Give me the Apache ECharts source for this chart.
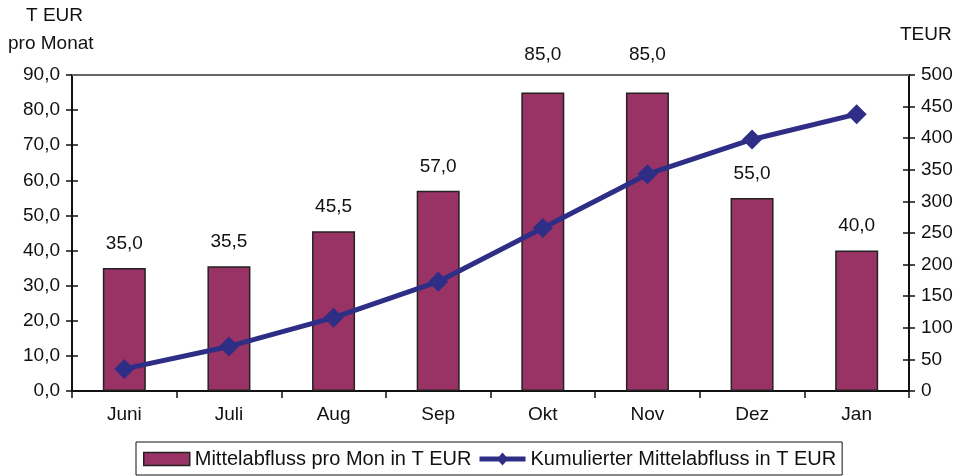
<!DOCTYPE html>
<html><head><meta charset="utf-8">
<script src="https://cdn.jsdelivr.net/npm/echarts@6/dist/echarts.min.js"></script>
<style>html,body{margin:0;padding:0;background:#fff}#c{width:964px;height:476px}</style>
</head><body><div id="c"></div>
<script>
const categories = ['Juni','Juli','Aug','Sep','Okt','Nov','Dez','Jan'];
const monthly = [35.0, 35.5, 45.5, 57.0, 85.0, 85.0, 55.0, 40.0];
const cumulative = [35, 70.5, 116, 173, 258, 343, 398, 438];
const rightTitle = 'TEUR';
const barName = 'Mittelabfluss pro Mon in T EUR';
const lineName = 'Kumulierter Mittelabfluss in T EUR';

const font = 'Liberation Sans, Arial, sans-serif';
const fs = 19;
const comma = v => v.toFixed(1).replace('.', ',');
// labels above the two tallest bars sit higher in the reference
const labelDistance = v => v >= 80 ? 28 : 15;
const lineIcon = 'path://M0,4 L19.5,4 L23,0 L26.5,4 L46,4 L46,9 L26.5,9 L23,13 L19.5,9 L0,9 Z';

const chart = echarts.init(document.getElementById('c'));
const baseAxis = {
  type: 'value', splitLine: {show: false},
  axisLine: {show: true, lineStyle: {color: '#111', width: 2}},
  axisTick: {show: true, length: 6, lineStyle: {color: '#111', width: 1.5}},
  axisLabel: {fontSize: fs, color: '#111', margin: 12, fontFamily: font}
};
chart.setOption({
  animation: false,
  textStyle: {fontFamily: font},
  grid: {left: 72, right: 55, top: 75, bottom: 85, containLabel: false},
  graphic: [
    {type: 'text', left: 26, top: 6, style: {text: 'T EUR', font: fs + 'px ' + font, fill: '#111'}},
    {type: 'text', left: 8, top: 34, style: {text: 'pro Monat', font: fs + 'px ' + font, fill: '#111'}},
    {type: 'text', left: 900, top: 25, style: {text: rightTitle, font: fs + 'px ' + font, fill: '#111'}},
    {type: 'line', z: 10, shape: {x1: 72, y1: 75, x2: 909, y2: 75}, style: {stroke: '#666', lineWidth: 2}}
  ],
  legend: {
    bottom: 1, left: 136,
    data: [
      {name: barName, icon: 'rect', itemStyle: {borderColor: '#222', borderWidth: 1.5}},
      {name: lineName, icon: lineIcon, itemStyle: {color: '#2E2E86', borderWidth: 0}}
    ],
    itemGap: 8,
    itemWidth: 46, itemHeight: 13,
    padding: [7, 6, 6, 7],
    borderColor: '#111', borderWidth: 1,
    textStyle: {fontSize: 20, color: '#111', fontFamily: font}
  },
  xAxis: {
    type: 'category', data: categories,
    axisLine: {lineStyle: {color: '#111', width: 2}},
    axisTick: {show: true, alignWithLabel: false, length: 7, lineStyle: {color: '#111', width: 1.5}},
    axisLabel: {fontSize: fs, color: '#111', margin: 14, fontFamily: font}
  },
  yAxis: [
    Object.assign({}, baseAxis, {min: 0, max: 90, interval: 10, position: 'left',
      axisLabel: Object.assign({}, baseAxis.axisLabel, {formatter: comma})}),
    Object.assign({}, baseAxis, {min: 0, max: 500, interval: 50, position: 'right'}),
    Object.assign({}, baseAxis, {min: 0, max: 90, interval: 10, position: 'left',
      axisTick: {show: true, inside: true, length: 6, lineStyle: {color: '#111', width: 1.5}},
      axisLabel: {show: false}}),
    Object.assign({}, baseAxis, {min: 0, max: 500, interval: 50, position: 'right',
      axisTick: {show: true, inside: true, length: 6, lineStyle: {color: '#111', width: 1.5}},
      axisLabel: {show: false}})
  ],
  series: [
    {name: barName, type: 'bar', yAxisIndex: 0, barWidth: 43,
     data: monthly.map(v => ({value: v, label: {distance: labelDistance(v)}})),
     itemStyle: {color: '#993366', borderColor: '#222', borderWidth: 1.5},
     label: {show: true, position: 'top', fontSize: fs, color: '#111', fontFamily: font,
       formatter: p => comma(p.value)}},
    {name: lineName, type: 'line', data: cumulative, yAxisIndex: 1,
     symbol: 'diamond', symbolSize: 20,
     lineStyle: {color: '#2E2E86', width: 5},
     itemStyle: {color: '#2E2E86'}}
  ]
});
</script></body></html>
